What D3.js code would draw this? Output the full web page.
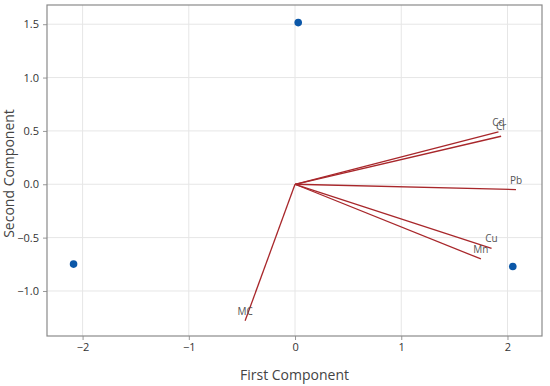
<!DOCTYPE html>
<html><head><meta charset="utf-8">
<script src="https://cdn.jsdelivr.net/npm/d3@7"></script>
<style>body{margin:0;background:#fff}svg{display:block}</style>
</head><body>
<script>
const scoreX = [-2.085, 0.03, 2.05];
const scoreY = [-0.748, 1.515, -0.77];
const varNames = ["Cd", "Cr", "Pb", "Cu", "Mn", "MC"];
const loadX = [1.915, 1.94, 2.08, 1.85, 1.75, -0.47];
const loadY = [0.49, 0.45, -0.05, -0.60, -0.70, -1.28];
const xTicks = [-2, -1, 0, 1, 2];
const yTicks = [-1.0, -0.5, 0.0, 0.5, 1.0, 1.5];

const W = 550, H = 386;
const m = {l: 47, r: 8, t: 5, b: 50};
const svg = d3.select("body").append("svg").attr("width", W).attr("height", H);
const x = d3.scaleLinear().domain([-2.335, 2.325]).range([m.l, W - m.r]);
const y = d3.scaleLinear().domain([-1.422, 1.68]).range([H - m.b, m.t]);

// grid
svg.append("g").selectAll("line").data(xTicks).join("line")
  .attr("x1", d => x(d)).attr("x2", d => x(d)).attr("y1", m.t).attr("y2", H - m.b)
  .attr("stroke", "#e6e6e6").attr("stroke-width", 1);
svg.append("g").selectAll("line").data(yTicks).join("line")
  .attr("y1", d => y(d)).attr("y2", d => y(d)).attr("x1", m.l).attr("x2", W - m.r)
  .attr("stroke", "#e6e6e6").attr("stroke-width", 1);

// axes
const font = "'Open Sans', 'Noto Sans', sans-serif";
const gx = svg.append("g").attr("transform", `translate(0,${H - m.b})`)
  .call(d3.axisBottom(x).tickValues(xTicks).tickFormat(d3.format("d")).tickSize(4).tickPadding(3));
const gy = svg.append("g").attr("transform", `translate(${m.l},0)`)
  .call(d3.axisLeft(y).tickValues(yTicks).tickFormat(d3.format(".1f")).tickSize(4).tickPadding(4));
[gx, gy].forEach(g => {
  g.select(".domain").remove();
  g.selectAll(".tick line").attr("stroke", "#999");
  g.selectAll(".tick text").attr("fill", "#333").style("font-family", font).style("font-size", "11px");
});

// frame
svg.append("rect").attr("x", m.l).attr("y", m.t).attr("width", W - m.r - m.l).attr("height", H - m.b - m.t)
  .attr("fill", "none").attr("stroke", "#8a8a8a").attr("stroke-width", 1.2);

// loadings
const vars = varNames.map((n, i) => ({n, x: loadX[i], y: loadY[i]}));
svg.append("g").selectAll("line").data(vars).join("line")
  .attr("x1", x(0)).attr("y1", y(0)).attr("x2", d => x(d.x)).attr("y2", d => y(d.y))
  .attr("stroke", "#a8272b").attr("stroke-width", 1.3);
svg.append("g").selectAll("text").data(vars).join("text")
  .attr("x", d => x(d.x)).attr("y", d => y(d.y) - 6)
  .attr("text-anchor", "middle")
  .attr("fill", "#555").style("font-family", font).style("font-size", "10px")
  .text(d => d.n);

// scores
svg.append("g").selectAll("circle").data(scoreX.map((v, i) => ({x: v, y: scoreY[i]}))).join("circle")
  .attr("cx", d => x(d.x)).attr("cy", d => y(d.y)).attr("r", 3.8).attr("fill", "#0b57a8");

// titles
svg.append("text").attr("x", (m.l + W - m.r) / 2).attr("y", 380).attr("text-anchor", "middle")
  .attr("fill", "#444").style("font-family", font).style("font-size", "14px").text("First Component");
svg.append("text").attr("transform", `translate(14,${(m.t + H - m.b) / 2 + 3}) rotate(-90)`).attr("text-anchor", "middle")
  .attr("fill", "#444").style("font-family", font).style("font-size", "14px").text("Second Component");
</script>
</body></html>
